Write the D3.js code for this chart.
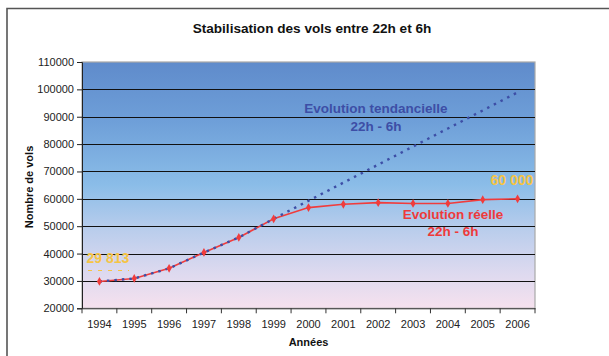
<!DOCTYPE html>
<html>
<head>
<meta charset="utf-8">
<script src="https://cdn.jsdelivr.net/npm/d3@7"></script>
<style>
  html, body { margin: 0; padding: 0; background: #fff; }
  svg { display: block; font-family: "Liberation Sans", Arial, sans-serif; }
</style>
</head>
<body>
<svg id="chart" width="609" height="356"></svg>
<script>
// Night flights between 22h and 6h, 1994-2006
const years = ["1994","1995","1996","1997","1998","1999","2000","2001","2002","2003","2004","2005","2006"];
const actualFlights = [29813, 30900, 34600, 40400, 45900, 52700, 56800, 58000, 58600, 58300, 58300, 59700, 60000];
const trendFlights  = [29813, 30900, 34600, 40400, 45900, 52700, 59300, 65900, 72500, 79100, 85700, 92300, 98900];
const yTicks = [20000, 30000, 40000, 50000, 60000, 70000, 80000, 90000, 100000, 110000];
const firstLabel = "29 813";
const lastLabel = "60 000";

const svg = d3.select("#chart");
const margin = { left: 82, right: 74, top: 62, bottom: 48 };
const W = 609, H = 356;
const x0 = margin.left, x1 = W - margin.right;
const y0 = H - margin.bottom, y1 = margin.top;

const x = d3.scaleBand().domain(years).range([x0, x1]).paddingInner(0).paddingOuter(0);
const y = d3.scaleLinear().domain([20000, 110000]).range([y0 + 0.3, y1]);
const cx = d => x(d) + x.bandwidth() / 2;

// outer frame
svg.append("path")
  .attr("d", `M7,${H + 2}V8.5H${W + 2}`)
  .attr("fill", "none").attr("stroke", "#555").attr("stroke-width", 1.6);

// plot background gradient
const defs = svg.append("defs");
const grad = defs.append("linearGradient").attr("id", "bg")
  .attr("x1", 0).attr("y1", 0).attr("x2", 0).attr("y2", 1);
[[0, "#5f8bcb"], [0.25, "#6fa0d9"], [0.5, "#8bbde8"], [0.68, "#b9cdec"], [0.85, "#dcd9ef"], [1, "#f6e1ee"]]
  .forEach(([o, c]) => grad.append("stop").attr("offset", o).attr("stop-color", c));

svg.append("rect")
  .attr("x", x0).attr("y", y(110000))
  .attr("width", x1 - x0).attr("height", y(20000) - y(110000))
  .attr("fill", "url(#bg)")
  .attr("stroke", "#a8a8a8").attr("stroke-width", 1.2);

// horizontal gridlines
svg.append("g").selectAll("line")
  .data(yTicks.filter(v => v > 20000 && v < 110000))
  .join("line")
  .attr("x1", x0).attr("x2", x1)
  .attr("y1", d => Math.round(y(d)) + 0.5).attr("y2", d => Math.round(y(d)) + 0.5)
  .attr("stroke", "#111").attr("stroke-width", 1);

// y axis
const yAxis = svg.append("g")
  .attr("transform", `translate(${x0},0)`)
  .call(d3.axisLeft(y).tickValues(yTicks).tickFormat(d3.format("d")).tickSize(5).tickPadding(3));
yAxis.select(".domain").attr("stroke", "#222");
yAxis.selectAll(".tick line").attr("stroke", "#222");
yAxis.selectAll("text").attr("font-size", 11).attr("fill", "#222")
  .attr("font-family", "Liberation Sans, Arial, sans-serif");

// x axis with category boundary ticks
const xAxis = svg.append("g")
  .attr("transform", `translate(0,${y(20000)})`)
  .call(d3.axisBottom(x).tickSize(0).tickPadding(12));
xAxis.select(".domain").attr("stroke", "#333");
xAxis.selectAll("text").attr("font-size", 11).attr("fill", "#222")
  .attr("font-family", "Liberation Sans, Arial, sans-serif");
const bounds = years.map(d => x(d)).concat([x1]);
xAxis.append("g").selectAll("line").data(bounds).join("line")
  .attr("x1", d => d).attr("x2", d => d).attr("y1", 0).attr("y2", 5)
  .attr("stroke", "#333");

// axis titles
svg.append("text").attr("x", (x0 + x1) / 2).attr("y", 346)
  .attr("text-anchor", "middle").attr("font-size", 11).attr("font-weight", "bold")
  .attr("fill", "#111").text("Années");
svg.append("text").attr("transform", `translate(33,${(y0 + y1) / 2 + 2}) rotate(-90)`)
  .attr("text-anchor", "middle").attr("font-size", 11).attr("font-weight", "bold")
  .attr("fill", "#111").text("Nombre de vols");

// title
svg.append("text").attr("x", 312).attr("y", 33)
  .attr("text-anchor", "middle").attr("font-size", 13.6).attr("font-weight", "bold")
  .attr("fill", "#111").text("Stabilisation des vols entre 22h et 6h");

// actual series line
const line = d3.line().x((d, i) => cx(years[i])).y(d => y(d));
svg.append("path").datum(actualFlights)
  .attr("d", line).attr("fill", "none")
  .attr("stroke", "#f03c3c").attr("stroke-width", 1.6);

// trend series (dotted)
svg.append("path").datum(trendFlights)
  .attr("d", line).attr("fill", "none")
  .attr("stroke", "#3d4ea6").attr("stroke-width", 2.4)
  .attr("stroke-dasharray", "2.5,5");

// actual series markers
svg.append("g").selectAll("path").data(actualFlights).join("path")
  .attr("transform", (d, i) => `translate(${cx(years[i])},${y(d)})`)
  .attr("d", d3.symbol(d3.symbolDiamond, 22))
  .attr("fill", "#f03c3c");

// value callouts
svg.append("text").attr("x", 108).attr("y", 262.5)
  .attr("text-anchor", "middle").attr("font-size", 14).attr("font-weight", "bold")
  .attr("fill", "#f6c445").text(firstLabel);
svg.append("line").attr("x1", 88).attr("x2", 129).attr("y1", 270.5).attr("y2", 270.5)
  .attr("stroke", "#f6c445").attr("stroke-width", 1).attr("stroke-dasharray", "4,6");
svg.append("text").attr("x", 512).attr("y", 184.5)
  .attr("text-anchor", "middle").attr("font-size", 14).attr("font-weight", "bold")
  .attr("fill", "#f6c445").text(lastLabel);

// series annotations
const trendNote = svg.append("text").attr("text-anchor", "middle")
  .attr("font-size", 13.5).attr("font-weight", "bold").attr("fill", "#3d4ea6");
trendNote.append("tspan").attr("x", 376).attr("y", 113).text("Evolution tendancielle");
trendNote.append("tspan").attr("x", 376).attr("y", 131).text("22h - 6h");

const realNote = svg.append("text").attr("text-anchor", "middle")
  .attr("font-size", 13.5).attr("font-weight", "bold").attr("fill", "#ee3a3a");
realNote.append("tspan").attr("x", 453).attr("y", 219).text("Evolution réelle");
realNote.append("tspan").attr("x", 453).attr("y", 236).text("22h - 6h");
</script>
</body>
</html>
